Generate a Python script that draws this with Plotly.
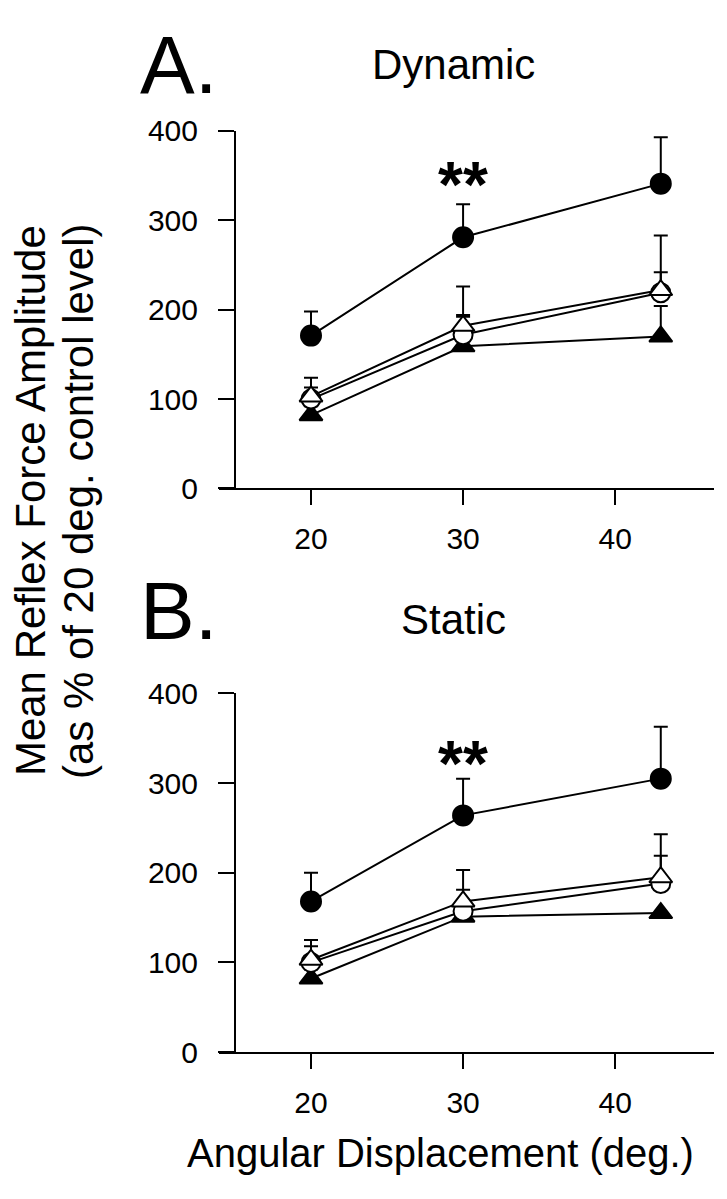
import plotly.graph_objects as go

W, H = 727, 1199

# ---------------- data ----------------
angles = [20, 30, 43]
x_ticks = [20, 30, 40]
y_ticks = [0, 100, 200, 300, 400]

dyn_filled_circle = [171, 281, 341]
dyn_filled_circle_err = [27, 37, 52]
dyn_open_triangle = [103, 182, 222]
dyn_open_triangle_err = [21, 44, 61]
dyn_open_circle = [100, 172, 219]
dyn_open_circle_err = [13, 22, 23]
dyn_filled_triangle = [82, 159, 170]
dyn_filled_triangle_err = [10, 33, 34]

sta_filled_circle = [168, 264, 305]
sta_filled_circle_err = [32, 41, 58]
sta_open_triangle = [103, 168, 195]
sta_open_triangle_err = [22, 35, 48]
sta_open_circle = [100, 157, 188]
sta_open_circle_err = [18, 24, 31]
sta_filled_triangle = [82, 151, 155]
sta_filled_triangle_err = [10, 10, 0]

FONT = "Liberation Sans, Arial, Helvetica, sans-serif"

def fx(px):
    return px / W

def fy(py):
    return 1 - py / H

# panel pixel geometry
X_LEFT, X_RIGHT = 211, 706
A_TOP, A_BOT = 109, 477
B_TOP, B_BOT = 688, 1057
YAXIS_PX = 227

fig = go.Figure()

def add_series(xa, ya, y, err, symbol, fill, size):
    fig.add_trace(go.Scatter(
        x=angles, y=y, xaxis=xa, yaxis=ya, mode="lines+markers",
        line=dict(color="black", width=2),
        marker=dict(symbol=symbol, size=size, color=fill,
                    line=dict(color="black", width=2)),
        error_y=dict(type="data", symmetric=False, array=err,
                     arrayminus=[0] * len(err), color="black",
                     thickness=2, width=7),
        showlegend=False, cliponaxis=False,
    ))

for xa, ya, data in [
    ("x", "y", [
        (dyn_filled_triangle, dyn_filled_triangle_err, "triangle-up", "black", 20),
        (dyn_open_circle, dyn_open_circle_err, "circle", "white", 19),
        (dyn_open_triangle, dyn_open_triangle_err, "triangle-up", "white", 20),
        (dyn_filled_circle, dyn_filled_circle_err, "circle", "black", 20),
    ]),
    ("x2", "y2", [
        (sta_filled_triangle, sta_filled_triangle_err, "triangle-up", "black", 20),
        (sta_open_circle, sta_open_circle_err, "circle", "white", 19),
        (sta_open_triangle, sta_open_triangle_err, "triangle-up", "white", 20),
        (sta_filled_circle, sta_filled_circle_err, "circle", "black", 20),
    ]),
]:
    for y, err, sym, fill, size in data:
        add_series(xa, ya, y, err, sym, fill, size)

xaxis_common = dict(
    range=[13.95, 46.5], tickvals=x_ticks, ticktext=[str(v) for v in x_ticks],
    ticks="outside", ticklen=15, tickwidth=2, tickcolor="black",
    showline=True, linecolor="black", linewidth=2, showgrid=False,
    zeroline=False, tickfont=dict(family=FONT, size=30, color="black"),
    ticklabelstandoff=8, fixedrange=True,
)
yaxis_common = dict(
    range=[0, 400], tickvals=y_ticks, ticks="outside", ticklen=16, tickwidth=2,
    tickcolor="black", showline=True, linecolor="black", linewidth=2,
    showgrid=False, zeroline=False, anchor="free", position=fx(YAXIS_PX),
    tickfont=dict(family=FONT, size=30, color="black"),
    ticklabelstandoff=14, fixedrange=True,
)

fig.update_layout(
    width=W, height=H, margin=dict(l=0, r=0, t=0, b=0),
    paper_bgcolor="white", plot_bgcolor="white",
    xaxis=dict(domain=[fx(X_LEFT), fx(X_RIGHT)], anchor="y", **xaxis_common),
    yaxis=dict(domain=[fy(A_BOT), fy(A_TOP)], **yaxis_common),
    xaxis2=dict(domain=[fx(X_LEFT), fx(X_RIGHT)], anchor="y2", **xaxis_common),
    yaxis2=dict(domain=[fy(B_BOT), fy(B_TOP)], **yaxis_common),
)

def txt(x, y, s, size, xanchor="center", yanchor="middle", angle=0, xref="paper", yref="paper"):
    fig.add_annotation(x=x, y=y, xref=xref, yref=yref, text=s, showarrow=False,
                       xanchor=xanchor, yanchor=yanchor, textangle=angle,
                       font=dict(family=FONT, size=size, color="black"))

txt(fx(170), fy(41), "A.", 82)
txt(fx(445), fy(41), "Dynamic", 42)
txt(fx(170), fy(603), "B.", 82)
txt(fx(445), fy(612), "Static", 42)
txt(30, 340, "<b>**</b>", 64, xref="x", yref="y")
txt(30, 321, "<b>**</b>", 64, xref="x2", yref="y2")
txt(fx(22), fy(490), "Mean Reflex Force Amplitude", 42, angle=-90)
txt(fx(70), fy(490), "(as % of 20 deg. control level)", 42, angle=-90)
txt(fx(432), fy(1161), "Angular Displacement (deg.)", 40)

fig.write_html("out.html")
